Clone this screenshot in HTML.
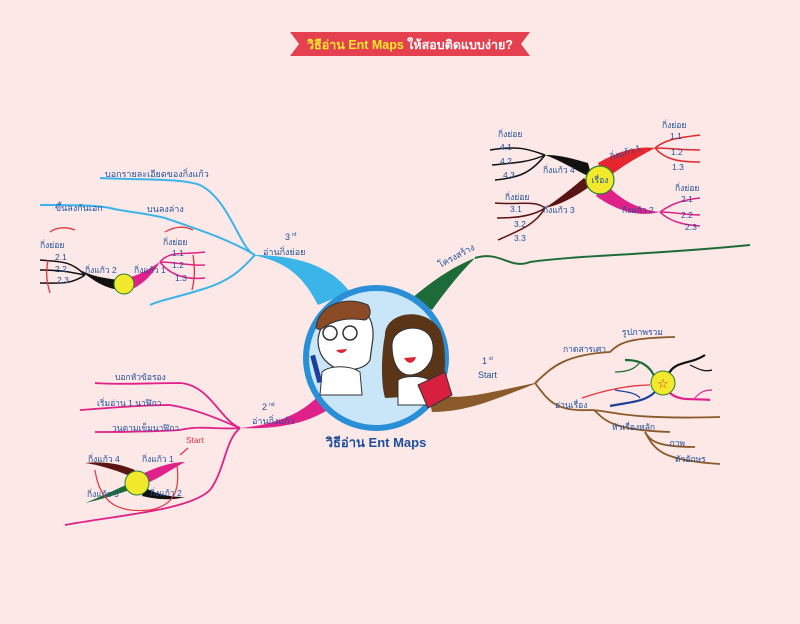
<!DOCTYPE html>
<html><head><meta charset="utf-8"><style>
html,body{margin:0;padding:0;background:#fce8e6;}
svg{display:block}
text{font-family:"Liberation Sans","DejaVu Sans",sans-serif;fill:#1f4f9c;}
</style></head><body>
<svg width="800" height="624" viewBox="0 0 800 624" xmlns="http://www.w3.org/2000/svg">
<rect width="800" height="624" fill="#fce8e6"/>
<!-- title banner -->
<polygon points="290,32 530,32 521,44 530,56 290,56 299,44" fill="#e5404f"/>
<text x="410" y="49" font-size="12.5" font-weight="bold" text-anchor="middle" style="fill:#ffea2a">วิธีอ่าน Ent Maps <tspan style="fill:#fff">ให้สอบติดแบบง่าย?</tspan></text>

<!-- BLUE branch (3rd) -->
<path d="M318,305 C305,280 290,262 252,255 C295,255 330,265 350,292 Z" fill="#3bb4e8"/>
<g fill="none" stroke="#3bb4e8" stroke-width="2">
<path d="M255,255 C240,250 230,200 200,185 C180,178 140,180 100,178"/>
<path d="M255,255 C230,240 200,230 165,218 C140,212 125,212 110,208 C95,205 70,205 40,205"/>
<path d="M255,255 C245,265 235,280 200,290 C175,298 160,300 150,305"/>
</g>
<text x="285" y="240" font-size="9">3</text><text x="292" y="236" font-size="5">rd</text>
<text x="263" y="255" font-size="9">อ่านกิ่งย่อย</text>
<text x="105" y="177" font-size="9">บอกรายละเอียดของกิ่งแก้ว</text>
<text x="55" y="211" font-size="9">ขึ้นลงกันเอก</text>
<text x="147" y="212" font-size="9">บนลงล่าง</text>
<!-- left mini map (blue section) -->
<path d="M120,280 C100,278 90,275 80,270 C95,282 105,288 120,290 Z" fill="#111"/>
<path d="M125,278 C140,276 150,268 160,262 C150,278 140,287 125,292 Z" fill="#e0218a"/>
<g fill="none" stroke="#111" stroke-width="1.5">
<path d="M85,275 C70,260 60,262 40,260"/><path d="M85,275 C70,272 60,270 40,270"/><path d="M85,275 C70,285 60,283 40,283"/>
</g>
<g fill="none" stroke="#e0218a" stroke-width="1.5">
<path d="M160,262 C170,250 185,255 205,252"/><path d="M160,262 C175,262 190,266 205,265"/><path d="M160,262 C170,275 185,280 205,278"/>
</g>
<circle cx="124" cy="284" r="10" fill="#f2e92d" stroke="#2e7d32" stroke-width="1"/>
<g fill="none" stroke="#e5333f" stroke-width="1.3">
<path d="M50,232 C55,228 65,226 75,230"/><path d="M48,260 C46,272 46,280 50,293"/>
<path d="M165,232 C175,226 185,226 193,230"/><path d="M193,255 C195,268 195,278 192,290"/>
</g>
<text x="40" y="248" font-size="8.5">กิ่งย่อย</text>
<text x="55" y="260" font-size="8.5">2.1</text><text x="55" y="272" font-size="8.5">2.2</text><text x="57" y="283" font-size="8.5">2.3</text>
<text x="85" y="273" font-size="8.5">กิ่งแก้ว 2</text>
<text x="134" y="273" font-size="8.5">กิ่งแก้ว 1</text>
<text x="163" y="245" font-size="8.5">กิ่งย่อย</text>
<text x="172" y="256" font-size="8.5">1.1</text><text x="172" y="268" font-size="8.5">1.2</text><text x="175" y="281" font-size="8.5">1.3</text>

<!-- GREEN branch -->
<path d="M412,298 C430,283 450,268 475,258 C458,275 445,292 432,310 Z" fill="#1e6b3a"/>
<path d="M475,258 C500,250 510,270 530,262 C580,255 650,255 750,245" fill="none" stroke="#1e6b3a" stroke-width="2"/>
<text x="440" y="268" font-size="9" transform="rotate(-28 440 268)">โครงสร้าง</text>

<!-- BROWN branch -->
<path d="M428,394 C460,402 490,392 540,382 C500,397 470,412 432,412 Z" fill="#8b5a2b"/>
<g fill="none" stroke="#8b5a2b" stroke-width="1.8">
<path d="M535,383 C550,370 560,355 610,352 C620,342 630,338 675,337"/>
<path d="M535,383 C548,400 555,412 590,410 C610,410 620,420 720,417"/>
<path d="M594,410 C605,420 610,430 670,432"/>
<path d="M645,432 C650,440 655,447 695,447"/>
<path d="M645,432 C655,450 660,460 720,464"/>
</g>
<text x="482" y="364" font-size="9">1</text><text x="489" y="360" font-size="5">st</text>
<text x="478" y="378" font-size="9">Start</text>
<text x="563" y="352" font-size="8.5">กาดสารเศา</text>
<text x="622" y="335" font-size="8.5">รูปภาพรวม</text>
<text x="555" y="408" font-size="8.5">อ่านเรื่อง</text>
<text x="612" y="430" font-size="8.5">หัวเรื่องหลัก</text>
<text x="669" y="446" font-size="8.5">ภาพ</text>
<text x="675" y="462" font-size="8.5">ตัวอักษร</text>
<!-- mini flower -->
<g fill="none" stroke-width="2.2">
<path d="M655,378 C650,365 640,360 625,360" stroke="#1e6b3a"/><path d="M640,362 C635,370 625,372 615,372" stroke="#1e6b3a" stroke-width="1.2"/>
<path d="M668,375 C675,360 690,365 705,355" stroke="#111"/><path d="M690,365 C700,370 705,372 712,370" stroke="#111" stroke-width="1.2"/>
<path d="M650,385 C630,385 605,390 582,398" stroke="#e5333f" stroke-width="1.3"/>
<path d="M655,392 C645,402 630,402 610,406" stroke="#1d3f9a"/><path d="M640,398 C635,392 625,392 615,390" stroke="#1d3f9a" stroke-width="1.2"/>
<path d="M670,393 C680,402 695,398 710,400" stroke="#e0218a"/><path d="M695,398 C700,392 705,390 712,390" stroke="#e0218a" stroke-width="1.2"/>
</g>
<circle cx="663" cy="383" r="12" fill="#f2e92d" stroke="#2e7d32" stroke-width="1"/>
<text x="663" y="388" font-size="13" text-anchor="middle" style="fill:#e5333f">☆</text>

<!-- PINK branch -->
<path d="M338,402 C318,420 285,430 240,428 C285,424 308,408 322,392 Z" fill="#e0218a"/>
<g fill="none" stroke="#e0218a" stroke-width="1.8">
<path d="M240,428 C220,420 210,385 180,383 C150,383 120,385 95,383"/>
<path d="M240,428 C220,420 200,410 170,405 C140,405 110,408 80,410"/>
<path d="M240,428 C220,430 200,425 180,430 C150,432 120,432 95,432"/>
<path d="M240,428 C225,440 225,470 210,490 C190,510 120,515 65,525"/>
</g>
<text x="262" y="410" font-size="9">2</text><text x="269" y="406" font-size="5">nd</text>
<text x="252" y="424" font-size="9">อ่านกิ่งแก้ว</text>
<text x="115" y="380" font-size="8.5">บอกหัวข้อรอง</text>
<text x="97" y="406" font-size="8.5">เริ่มอ่าน 1 นาฬิกา</text>
<text x="112" y="431" font-size="8.5">วนตามเข็มนาฬิกา</text>
<!-- pink mini map -->
<path d="M130,476 C115,470 100,465 85,463 C105,461 120,464 135,470 Z" fill="#5b1414"/>
<path d="M142,474 C155,468 170,462 185,462 C170,470 160,478 145,484 Z" fill="#e0218a"/>
<path d="M130,490 C115,495 100,500 85,503 C100,497 115,490 128,484 Z" fill="#1e6b3a"/>
<path d="M145,488 C160,495 170,497 185,497 C170,501 155,499 142,496 Z" fill="#111"/>
<circle cx="137" cy="483" r="12" fill="#f2e92d" stroke="#2e7d32" stroke-width="1"/>
<g fill="none" stroke="#e5333f" stroke-width="1.2">
<path d="M177,465 C180,490 175,505 150,510 C120,513 100,505 95,470"/>
<path d="M188,448 L180,455"/>
</g>
<text x="186" y="443" font-size="8.5" style="fill:#e5333f">Start</text>
<text x="88" y="462" font-size="8.5">กิ่งแก้ว 4</text>
<text x="142" y="462" font-size="8.5">กิ่งแก้ว 1</text>
<text x="87" y="497" font-size="8.5">กิ่งแก้ว 3</text>
<text x="150" y="496" font-size="8.5">กิ่งแก้ว 2</text>

<!-- TOP RIGHT mini map -->
<path d="M598,163 C620,150 640,146 655,148 C640,156 620,167 605,180 Z" fill="#e5262e"/>
<path d="M605,183 C620,200 640,210 660,212 C640,217 618,212 596,196 Z" fill="#e0218a"/>
<path d="M588,163 C570,158 560,155 545,155 C560,160 575,170 592,178 Z" fill="#111"/>
<path d="M592,185 C575,197 560,205 545,208 C560,198 572,188 584,178 Z" fill="#5b1414"/>
<g fill="none" stroke-width="1.5">
<path d="M655,148 C665,140 675,138 700,135" stroke="#e5262e"/><path d="M655,148 C670,148 680,150 700,150" stroke="#e5262e"/><path d="M655,148 C665,160 680,162 700,162" stroke="#e5262e"/>
<path d="M660,212 C670,205 680,200 700,198" stroke="#e0218a"/><path d="M660,212 C675,212 685,215 700,215" stroke="#e0218a"/><path d="M660,212 C670,222 685,225 700,226" stroke="#e0218a"/>
<path d="M545,155 C530,150 520,145 490,150" stroke="#111"/><path d="M545,155 C530,162 515,163 492,165" stroke="#111"/><path d="M545,155 C530,175 515,178 495,180" stroke="#111"/>
<path d="M545,208 C535,200 520,205 495,203" stroke="#5b1414"/><path d="M545,208 C535,215 520,218 497,218" stroke="#5b1414"/><path d="M545,208 C535,225 520,230 498,240" stroke="#5b1414"/>
</g>
<circle cx="600" cy="180" r="14" fill="#f2e92d" stroke="#2e7d32" stroke-width="1.2"/>
<text x="600" y="183" font-size="8.5" text-anchor="middle">เรื่อง</text>
<text x="611" y="160" font-size="8.5" transform="rotate(-18 611 160)">กิ่งแก้ว 1</text>
<text x="622" y="213" font-size="8.5">กิ่งแก้ว 2</text>
<text x="543" y="173" font-size="8.5">กิ่งแก้ว 4</text>
<text x="543" y="213" font-size="8.5">กิ่งแก้ว 3</text>
<text x="662" y="128" font-size="8.5">กิ่งย่อย</text>
<text x="670" y="139" font-size="8.5">1.1</text><text x="671" y="155" font-size="8.5">1.2</text><text x="672" y="170" font-size="8.5">1.3</text>
<text x="675" y="191" font-size="8.5">กิ่งย่อย</text>
<text x="681" y="202" font-size="8.5">2.1</text><text x="681" y="218" font-size="8.5">2.2</text><text x="685" y="230" font-size="8.5">2.3</text>
<text x="498" y="137" font-size="8.5">กิ่งย่อย</text>
<text x="500" y="150" font-size="8.5">4.1</text><text x="500" y="164" font-size="8.5">4.2</text><text x="503" y="178" font-size="8.5">4.3</text>
<text x="505" y="200" font-size="8.5">กิ่งย่อย</text>
<text x="510" y="212" font-size="8.5">3.1</text><text x="514" y="227" font-size="8.5">3.2</text><text x="514" y="241" font-size="8.5">3.3</text>

<!-- CENTER -->
<circle cx="376" cy="358" r="70" fill="#c8e6f7" stroke="#2a8fd6" stroke-width="6"/>
<!-- boy -->
<path d="M318,340 C320,320 338,300 360,308 C372,315 375,330 372,345 L370,360 C365,370 345,372 335,368 C325,362 318,355 318,340 Z" fill="#fff" stroke="#333" stroke-width="1.2"/>
<path d="M316,328 C318,305 345,295 368,305 C372,312 370,318 365,320 C350,318 335,318 320,330 Z" fill="#8b4a26" stroke="#333" stroke-width="1"/>
<circle cx="330" cy="333" r="7" fill="none" stroke="#333" stroke-width="1.5"/><circle cx="350" cy="333" r="7" fill="none" stroke="#333" stroke-width="1.5"/>
<path d="M336,350 C340,355 345,353 347,349 Z" fill="#d23"/>
<path d="M322,372 C330,365 350,365 360,372 L362,395 L320,395 Z" fill="#fff" stroke="#333" stroke-width="1"/>
<rect x="314" y="355" width="5" height="28" fill="#1d3f9a" transform="rotate(-15 316 370)"/>
<!-- girl -->
<path d="M385,335 C385,312 425,305 440,330 C448,350 445,380 440,395 L385,398 C380,380 382,350 385,335 Z" fill="#5a3518"/>
<path d="M392,345 C392,325 430,320 433,345 C435,365 420,375 410,375 C400,375 392,365 392,345 Z" fill="#fff" stroke="#333" stroke-width="1"/>
<path d="M404,358 C408,365 414,364 416,357 Z" fill="#d23"/>
<path d="M398,380 C405,375 425,375 432,382 L435,405 L398,405 Z" fill="#fff" stroke="#333" stroke-width="1"/>
<path d="M418,385 L445,372 L452,395 L428,408 Z" fill="#d81f3f" stroke="#333" stroke-width="1"/>
<text x="376" y="447" font-size="13" font-weight="bold" text-anchor="middle">วิธีอ่าน Ent Maps</text>
</svg>
</body></html>
